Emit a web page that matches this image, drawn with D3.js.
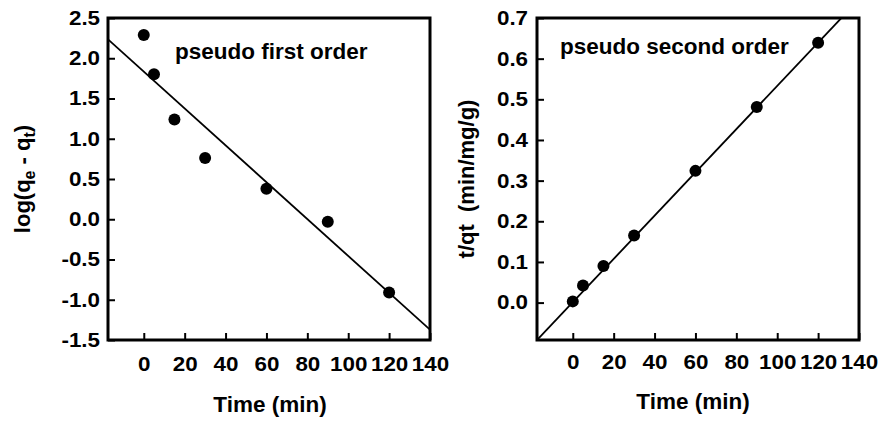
<!DOCTYPE html>
<html>
<head>
<meta charset="utf-8">
<script src="https://cdn.jsdelivr.net/npm/d3@7"></script>
<style>
  html, body { margin: 0; padding: 0; background: #fff; }
  svg { display: block; }
  text { font-family: "Liberation Sans", Arial, sans-serif; font-weight: bold; fill: #000; }
</style>
</head>
<body>
<svg id="chart" width="878" height="421"></svg>
<script>
// Sampling times (min)
const time = [0, 5, 15, 30, 60, 90, 120];
// Pseudo-first-order: log(qe - qt)
const logQeQt = [2.29, 1.80, 1.24, 0.76, 0.38, -0.03, -0.91];
// Pseudo-second-order: t/qt (min/mg/g)
const tOverQt = [0.003, 0.042, 0.090, 0.165, 0.324, 0.481, 0.639];
// Linear fits: [intercept, slope]
const firstOrderFit = [1.834, -0.0229];
const secondOrderFit = [0.001, 0.00532];
// Axis ticks
const timeTicks = [0, 20, 40, 60, 80, 100, 120, 140];
const firstOrderTicks = [-1.5, -1.0, -0.5, 0.0, 0.5, 1.0, 1.5, 2.0, 2.5];
const secondOrderTicks = [0.0, 0.1, 0.2, 0.3, 0.4, 0.5, 0.6, 0.7];

const svg = d3.select("#chart");
const fmt = d3.formatLocale({decimal: ".", thousands: ",", grouping: [3], currency: ["", ""], minus: "-"}).format(".1f");
const TICK_FONT = 20, TICK_STRETCH = 1.12;

function panel(opts) {
  const {left, right, top, bottom, yDomain, yTicks, values, fit, title, titleX, titleY,
         yLabelX, xLabelX, xLabelY, id, yLabel, xTickPad, yTickPad} = opts;
  const x = d3.scaleLinear().domain([-17.5, 140]).range([left, right]);
  const y = d3.scaleLinear().domain(yDomain).range([bottom, top]);
  const g = svg.append("g");

  g.append("clipPath").attr("id", id)
    .append("rect").attr("x", left).attr("y", top)
    .attr("width", right - left).attr("height", bottom - top);

  // x axis (ticks pointing inward)
  const xa = g.append("g").attr("transform", `translate(0,${bottom})`)
    .call(d3.axisBottom(x).tickValues(timeTicks).tickSize(-7).tickPadding(xTickPad).tickFormat(d3.format("d")));
  xa.select(".domain").remove();
  xa.selectAll("line").attr("stroke", "#000").attr("stroke-width", 2);
  xa.selectAll("text").attr("font-size", TICK_FONT).attr("font-family", null)
    .attr("transform", `scale(${TICK_STRETCH},1)`);

  // y axis
  const ya = g.append("g").attr("transform", `translate(${left},0)`)
    .call(d3.axisLeft(y).tickValues(yTicks).tickSize(-7).tickPadding(yTickPad).tickFormat(fmt));
  ya.select(".domain").remove();
  ya.selectAll("line").attr("stroke", "#000").attr("stroke-width", 2);
  ya.selectAll("text").attr("font-size", TICK_FONT).attr("font-family", null)
    .attr("transform", `scale(${TICK_STRETCH},1)`);

  // fitted line
  const xd = x.domain();
  g.append("line")
    .attr("clip-path", `url(#${id})`)
    .attr("x1", x(xd[0])).attr("y1", y(fit[0] + fit[1] * xd[0]))
    .attr("x2", x(xd[1])).attr("y2", y(fit[0] + fit[1] * xd[1]))
    .attr("stroke", "#000").attr("stroke-width", 1.8);

  // data points
  g.selectAll("circle").data(time).join("circle")
    .attr("cx", d => x(d)).attr("cy", (d, i) => y(values[i]))
    .attr("r", 6).attr("fill", "#000");

  // frame
  g.append("rect").attr("x", left).attr("y", top)
    .attr("width", right - left).attr("height", bottom - top)
    .attr("fill", "none").attr("stroke", "#000").attr("stroke-width", 3);

  g.append("text").attr("x", titleX).attr("y", titleY).attr("font-size", 22.5).text(title);

  g.append("text").attr("x", xLabelX).attr("y", xLabelY).attr("text-anchor", "middle")
    .attr("font-size", 22.5).text("Time (min)");

  const yl = g.append("text")
    .attr("transform", `translate(${yLabelX},${(top + bottom) / 2}) rotate(-90)`)
    .attr("text-anchor", "middle").attr("font-size", 22);
  yLabel(yl);
}

panel({
  id: "clipA", left: 108, right: 430, top: 18, bottom: 340,
  yDomain: [-1.5, 2.5], yTicks: firstOrderTicks, values: logQeQt, fit: firstOrderFit,
  title: "pseudo first order", titleX: 175, titleY: 59,
  yLabelX: 30, xLabelX: 270, xLabelY: 412, xTickPad: 17, yTickPad: 7.1,
  yLabel: t => {
    t.append("tspan").text("log(q");
    t.append("tspan").attr("font-size", 16).attr("dy", 5).text("e");
    t.append("tspan").attr("dy", -5).text(" - q");
    t.append("tspan").attr("font-size", 16).attr("dy", 5).text("t");
    t.append("tspan").attr("dy", -5).text(")");
  }
});

panel({
  id: "clipB", left: 537, right: 859, top: 18, bottom: 340,
  yDomain: [-0.092, 0.7], yTicks: secondOrderTicks, values: tOverQt, fit: secondOrderFit,
  title: "pseudo second order", titleX: 560, titleY: 54,
  yLabelX: 474, xLabelX: 693, xLabelY: 409, xTickPad: 15, yTickPad: 8,
  yLabel: t => { t.text("t/qt  (min/mg/g)").style("white-space", "pre"); }
});
</script>
</body>
</html>
